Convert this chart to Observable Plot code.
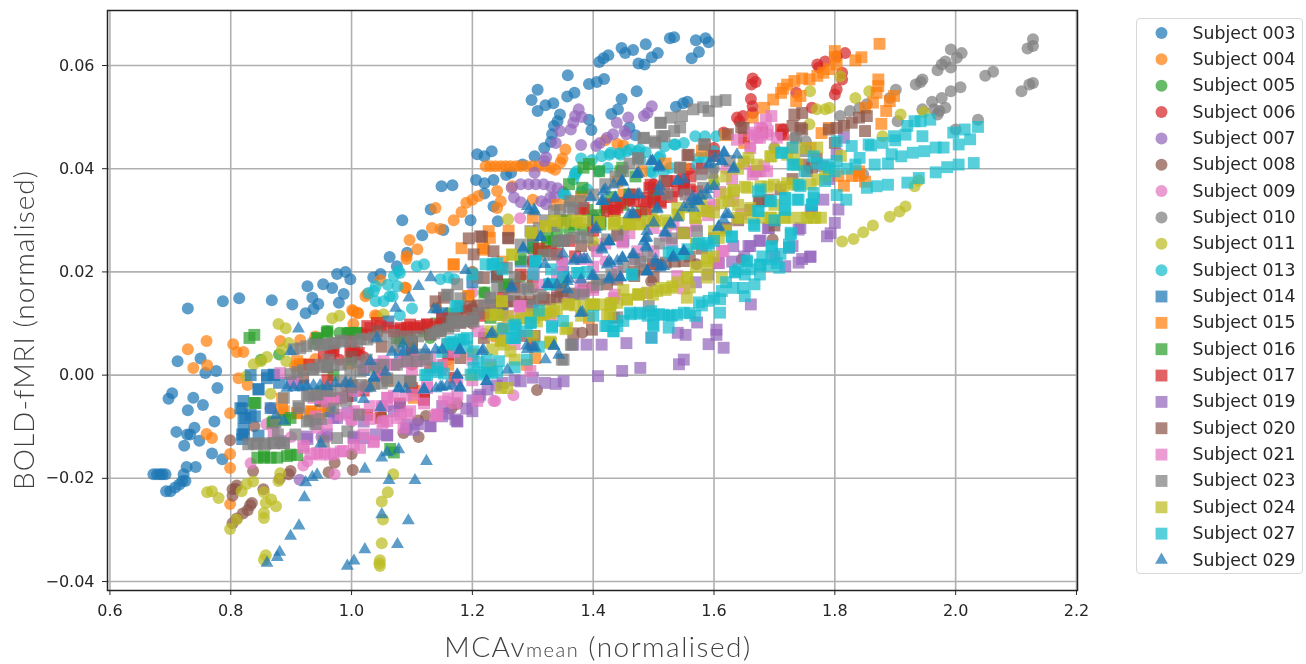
<!DOCTYPE html>
<html><head><meta charset="utf-8">
<script src="https://cdn.jsdelivr.net/npm/d3@7"></script>
<script src="https://cdn.jsdelivr.net/npm/@observablehq/plot@0.6"></script>
<style>
html,body{margin:0;padding:0;background:#fff;width:1306px;height:664px;overflow:hidden}
#chart{position:absolute;left:0;top:0}
#legend{position:absolute;left:1136px;top:18px;width:167px;height:556px;border:1.5px solid #d8d8d8;border-radius:4px;background:#fff;box-sizing:border-box}
svg{filter:blur(.45px)}
</style></head><body><div id="chart"></div><div id="legend"></div>
<script>
const xTicks=[0.6,0.8,1.0,1.2,1.4,1.6,1.8,2.0,2.2];
const yTicks=[-0.04,-0.02,0,0.02,0.04,0.06];
const xDomain=[0.596,2.2017];
const yDomain=[-0.04174,0.07066];
const tab10=["#1f77b4","#ff7f0e","#2ca02c","#d62728","#9467bd","#8c564b","#e377c2","#7f7f7f","#bcbd22","#17becf"];
const S003=[[.672,-.0192],[.678,-.0192],[.683,-.0192],[.687,-.0192],[.692,-.0192],[.693,-.0225],[.7,-.0225],[.708,-.0218],[.715,-.0212],[.72,-.0205],[.725,-.0205],[.722,-.0192],[.727,-.0178],[.742,-.0178],[.769,-.0152],[.786,-.0163],[.723,-.0137],[.748,-.0127],[.733,-.0115],[.728,-.0115],[.74,-.0102],[.71,-.011],[.773,-.009],[.729,-.0068],[.754,-.0058],[.738,-.0044],[.697,-.0046],[.703,-.0035],[.778,-.0025],[.758,.0004],[.776,.0008],[.75,.0032],[.712,.0027],[.729,.0129],[.787,.0143],[.814,.0149],[.868,.0145],[.902,.0137],[.924,.012],[.937,.0128],[.945,.0138],[.935,.015],[.927,.0172],[.953,.0176],[.968,.0169],[.976,.0196],[.99,.02],[.998,.0186],[.979,.014],[.987,.0157],[1.036,.0189],[1.048,.0196],[1.075,.0211],[1.063,.0229],[1.092,.0237],[1.117,.0271],[1.084,.03],[1.131,.0321],[1.149,.0366],[1.167,.0368],[1.152,.0281],[1.197,.03],[1.206,.0378],[1.22,.0372],[1.235,.0378],[1.22,.0352],[1.235,.0327],[1.242,.0298],[1.256,.0388],[1.208,.0428],[1.22,.0424],[1.232,.0434],[1.303,.0424],[1.319,.044],[1.33,.0452],[1.332,.0467],[1.335,.0483],[1.341,.0492],[1.345,.0505],[1.298,.0533],[1.308,.0553],[1.308,.0512],[1.321,.0523],[1.334,.0527],[1.358,.0581],[1.357,.054],[1.369,.0547],[1.393,.0564],[1.406,.0568],[1.418,.0574],[1.393,.0495],[1.397,.0475],[1.472,.055],[1.447,.0535],[1.441,.0515],[1.43,.0506],[1.537,.052],[1.549,.0527],[1.556,.053],[1.41,.0607],[1.417,.0614],[1.425,.062],[1.447,.0634],[1.453,.0624],[1.466,.063],[1.487,.0641],[1.475,.0604],[1.485,.0602],[1.497,.0616],[1.507,.0624],[1.527,.0653],[1.534,.0655],[1.57,.0649],[1.586,.0653],[1.591,.0645],[1.575,.0626],[1.563,.0614],[1.264,.0392],[1.283,.0408],[1.46,.048],[1.47,.0465]];
const S004=[[.799,-.025],[.799,-.018],[.799,-.0153],[.76,-.0114],[.769,-.0122],[.799,-.0074],[.828,-.0019],[.813,-.0006],[.738,.0014],[.761,.0019],[.729,.005],[.76,.0066],[.804,.006],[.81,.0045],[.821,.0045],[.882,.0066],[.915,.0068],[.94,.0075],[.906,.0017],[.917,.0018],[.94,.0031],[1.003,.0124],[1.01,.0121],[1.026,.0157],[1.042,.0114],[1.09,.0169],[1.001,.0126],[1.011,.012],[1.003,.0099],[1.039,.0116],[1.023,.0153],[1.048,.0184],[1.088,.017],[1.091,.0225],[1.091,.0231],[1.109,.0244],[1.096,.0262],[1.133,.0285],[1.147,.0283],[1.139,.0324],[1.169,.03],[1.182,.0316],[1.19,.0334],[1.2,.034],[1.21,.0347],[1.241,.0357],[1.247,.0337],[1.241,.0324],[1.266,.0366],[1.222,.0405],[1.23,.0405],[1.238,.0405],[1.247,.0405],[1.255,.0405],[1.263,.0405],[1.272,.0405],[1.28,.0405],[1.29,.0405],[1.3,.0405],[1.31,.0405],[1.32,.0405],[1.33,.0402],[1.337,.0398],[1.349,.042],[1.354,.0437],[1.346,.0412],[1.42,.0455],[1.44,.0448],[1.45,.0445],[1.02,.0012],[1.1,.006],[1.14,.013],[1.2,.02],[1.3,.034],[1.36,.034]];
const S005=[[.85,.003],[.88,.004],[.96,.0085],[.98,.0082],[1.04,.0015],[1.08,.0065],[1.1,.0068],[1.13,.0072],[1.16,.012],[1.22,.016],[1.28,.019],[1.32,.024],[1.36,.028],[1.4,.03],[1.46,.034],[1.5,.036],[1.55,.037],[1.6,.037],[.95,-.003],[1.05,-.008],[1.15,.002],[1.25,.009],[1.35,.018],[1.45,.028]];
const S006=[[1.616,.047],[1.638,.0499],[1.642,.0492],[1.648,.0502],[1.664,.0508],[1.664,.0521],[1.661,.0535],[1.662,.0563],[1.664,.0575],[1.669,.0568],[1.817,.0624],[1.803,.0618],[1.784,.0608],[1.771,.0602],[1.774,.0596],[1.812,.0586],[1.812,.0573],[1.803,.0554],[1.8,.0544],[1.736,.0547],[1.762,.0518],[1.714,.0476],[1.711,.0466],[1.0,.0047],[1.01,.004],[1.02,.0035],[.97,.0047],[.98,.003],[1.1,.002],[1.2,.013],[1.3,.022],[1.4,.03],[1.5,.037],[1.56,.04],[1.6,.044]];
const S007=[[1.381,.05],[1.376,.0515],[1.37,.0502],[1.367,.0489],[1.363,.0476],[1.345,.0473],[1.338,.045],[1.497,.0521],[1.49,.0508],[1.484,.0502],[1.458,.0499],[1.439,.0489],[1.452,.0473],[1.455,.0467],[1.433,.0467],[1.423,.046],[1.411,.045],[1.38,.0446],[1.405,.0444],[1.265,.0363],[1.28,.037],[1.293,.037],[1.305,.037],[1.318,.037],[1.33,.0365],[1.341,.0362],[1.269,.0344],[1.329,.0344],[1.322,.0331],[1.336,.0345],[1.319,.0415],[1.303,.0392],[1.322,.0422],[1.314,.0337],[.914,-.0203],[.866,-.0064],[.95,-.012],[1.05,-.006],[1.15,.001],[1.25,.012],[1.35,.022],[1.28,.0335],[1.35,.0355]];
const S008=[[.799,-.0126],[.839,-.0099],[.837,-.0186],[.803,-.0221],[.808,-.022],[.803,-.0234],[.81,-.0214],[.854,-.0221],[.835,-.0248],[.832,-.0252],[.828,-.0262],[.82,-.0268],[.81,-.0278],[.803,-.0287],[.899,-.0186],[.896,-.0192],[.881,-.0201],[.962,-.0188],[.972,-.017],[1.002,-.0184],[1.111,-.012],[1.086,-.0112],[1,-.0153],[1.175,-.0056],[1.165,-.0065],[1.382,.0082],[1.307,-.0029],[1.123,-.0079],[1.11,-.0088],[1.697,.0263],[1.646,.0224],[1.571,.0215],[1.496,.0182],[1.2,.01],[1.3,.017],[1.4,.025],[1.5,.03]];
const S009=[[.833,-.0171],[.859,-.0095],[.927,-.0167],[.92,-.0175],[.972,-.0192],[1.238,-.005],[1.268,-.0039],[1.235,-.005],[1.279,.0304],[.9,-.012],[.96,-.012],[1.0,-.009],[1.06,-.006],[1.11,-.003],[1.16,.003],[1.22,.008],[1.28,.012],[1.34,.016],[1.42,.022],[1.5,.03],[1.56,.034],[1.62,.04],[1.66,.044],[1.68,.048],[.99,-.002],[1.1,.005],[1.2,.016],[1.3,.024]];
const S010=[[2.128,.0651],[2.128,.0638],[2.119,.0633],[2.128,.0566],[2.122,.0563],[2.109,.055],[2.062,.0588],[2.049,.058],[1.992,.0631],[2.01,.0624],[2.002,.0615],[1.983,.0608],[1.977,.0602],[1.97,.0591],[1.992,.0596],[2.008,.0558],[1.992,.055],[1.977,.0537],[1.961,.053],[1.983,.0518],[1.973,.0512],[1.964,.0515],[1.945,.0573],[1.942,.0568],[1.934,.0563],[1.945,.0515],[1.97,.0505],[1.901,.0553],[1.891,.0537],[2.037,.0495],[2.0,.0476],[1.847,.0389],[1.809,.0502],[1.825,.0512],[1.841,.0518],[1.853,.0525],[1.904,.0492],[1.733,.046],[1.752,.0453],[1.2,.02],[1.3,.027],[1.4,.031],[1.5,.036],[1.6,.04],[1.7,.044]];
const S011=[[.761,-.0227],[.769,-.0225],[.78,-.0238],[.799,-.0298],[.81,-.028],[.818,-.0225],[.826,-.0211],[.837,-.0206],[.855,-.0227],[.858,-.0248],[.867,-.0241],[.875,-.0254],[.855,-.0267],[.855,-.0277],[.858,-.0349],[.855,-.0358],[.882,-.019],[.879,-.0205],[1.069,-.0192],[1.06,-.0227],[1.05,-.0245],[1.052,-.028],[1.05,-.0326],[1.046,-.0365],[1.047,-.037],[1.047,-.0359],[.879,.0099],[.891,.0091],[.968,.011],[.98,.0115],[.885,.005],[.892,.0027],[.896,.0062],[.838,.0021],[.826,-.0002],[.85,.0027],[.86,.0035],[.866,-.0036],[1.259,.0302],[1.053,.0118],[1.812,.0259],[1.831,.0264],[1.847,.0277],[1.863,.029],[1.891,.0307],[1.907,.0317],[1.917,.0327],[1.932,.0366],[1.939,.0377],[1.834,.0537],[1.857,.055],[1.909,.0505],[1.947,.051],[1.759,.055],[1.784,.0515],[1.791,.0518],[1.77,.0515],[1.758,.0486],[1.809,.0579],[1.879,.0463],[1.2,.012],[1.3,.018],[1.4,.026],[1.5,.032],[1.6,.038],[1.7,.044]];
const S013=[[1.028,.0159],[1.04,.0172],[1.06,.0175],[1.07,.0192],[1.078,.0202],[1.08,.0198],[1.108,.0211],[1.12,.0215],[1.076,.0172],[1.063,.0153],[1.04,.0143],[1.147,.0186],[1.16,.0189],[1.17,.0186],[1.1,.0129],[1.08,.0116],[1.398,.0417],[1.414,.0424],[1.427,.0427],[1.443,.043],[1.461,.0437],[1.477,.0437],[1.487,.0432],[1.518,.0443],[1.534,.0447],[1.55,.045],[1.569,.0463],[1.585,.0463],[1.604,.0463],[1.37,.0389],[1.367,.0379],[1.373,.0395],[1.424,.0402],[1.41,.0395],[1.509,.0421],[1.499,.0392],[1.575,.0421],[1.594,.0427],[1.354,.035],[1.37,.0391],[1.351,.0351],[1.037,.0163],[1.068,.0153],[1.053,.0143],[1.429,.0431],[1.445,.0427],[1.456,.0434],[1.473,.0434],[1.511,.0424],[1.528,.0402],[1.517,.0395],[1.495,.0395],[1.583,.0421],[1.6,.0434],[1.572,.0408],[1.478,.0418],[1.536,.0447],[1.38,.042],[1.39,.036],[1.38,.0355]];
const S014=[[.821,-.005],[.819,-.0065],[.821,-.0083],[.821,-.0105],[.819,-.0115],[.819,-.0124],[.846,-.0027],[.86,-.0006],[.872,0],[.866,-.0064],[.84,-.008],[.846,-.0117],[.965,-.007],[1.0,-.004],[1.061,.0104],[1.2,.018],[1.3,.025],[1.4,.03],[1.5,.034],[1.55,.036],[1.7,.03],[1.762,.0315],[1.1,.005],[1.25,.012],[1.35,.02],[1.45,.026],[.816,-.0064],[.824,-.0083],[.822,-.0115],[.833,-.0077],[.833,0],[.86,0],[.871,.0001],[.846,-.0028],[.962,-.007],[.948,-.0051],[.88,-.0015],[.9,-.0015],[.92,-.002],[1.02,.001],[1.04,.002],[1.08,.004],[1.12,.009],[1.15,.012],[1.24,.019],[1.28,.022]];
const S015=[[1.874,.0642],[1.8,.0628],[1.8,.0616],[1.844,.0616],[1.834,.061],[1.803,.0602],[1.79,.0593],[1.781,.0586],[1.771,.058],[1.758,.0573],[1.746,.0575],[1.733,.057],[1.721,.0563],[1.711,.0547],[1.714,.0555],[1.698,.0534],[1.683,.0518],[1.743,.0541],[1.736,.0531],[1.664,.0499],[1.872,.0573],[1.872,.056],[1.869,.0547],[1.898,.0541],[1.891,.0531],[1.885,.0512],[1.863,.0528],[1.85,.0518],[1.877,.0487],[1.79,.0479],[1.778,.0469],[1.828,.0386],[1.815,.0367],[1.806,.0386],[1.84,.0386],[1.169,.0215],[1.182,.0246],[1.227,.0279],[1.229,.0266],[1.217,.0246],[1.193,.0153],[1.304,.0033],[1.29,.002],[.885,-.0046],[.915,.0021],[.921,.0021],[.885,-.0067],[.91,-.0074],[.932,-.0076],[.947,-.0076],[.935,-.0071],[1.25,.022],[1.35,.03],[1.45,.035],[1.55,.04],[1.65,.045],[.888,-.007],[.91,-.0073],[.932,-.007],[.915,.0017],[.91,.0027],[.998,.0023],[1.103,-.0031],[1.103,-.0044],[1.169,.0214],[1.219,.0243],[1.194,.0153],[1.393,.0111],[1.252,.0091],[1.26,.028],[1.3,.0305],[1.34,.033],[1.38,.0345],[1.44,.0375],[1.48,.0395],[1.52,.041],[1.58,.0435],[1.62,.0465],[1.84,.0395],[1.85,.0375],[1.76,.044],[1.73,.044],[.955,-.006],[.975,-.0045],[1.0,-.002],[1.03,-.002],[1.06,-.001],[1.2,.004],[1.24,.0075],[1.16,.002]];
const S016=[[.831,.0072],[.839,.0078],[.839,-.0054],[.844,-.016],[.855,-.016],[.866,-.016],[.877,-.016],[.893,-.0157],[.91,-.0155],[.869,-.0093],[.89,-.0087],[.944,.007],[.96,.0085],[.995,.0081],[1.01,.0081],[1.064,-.0143],[1.07,-.015],[.94,.0062],[.993,.0081],[1.015,.0081],[1.081,.0072],[1.12,.0085],[1.252,.0176],[1.269,.0176],[1.301,.0246],[1.323,.0259],[1.412,.0298],[1.384,.0402],[1.445,.0395],[1.393,.0409],[1.448,.0402],[1.382,.0363],[1.41,.031],[1.449,.033],[1.48,.0317],[1.341,.0259],[1.31,.024],[1.253,.017],[1.42,.0325],[1.46,.035],[1.5,.0345],[.943,.0072],[.959,.0082],[.998,.0082],[1.009,.0082],[1.075,.0072],[1.097,.0069],[.899,-.0083],[.871,-.009],[.841,-.0054],[.855,-.0157],[.899,-.0154],[1.086,.0075],[1.34,.0279],[1.255,.0175],[1.335,.0259],[1.412,.0292],[1.23,.0111],[1.246,.0117],[1.324,.0266],[1.368,.0292],[1.384,.0282],[1.28,.0225],[1.3,.027],[1.355,.03],[1.39,.032],[1.43,.0345],[1.36,.037],[1.41,.0395],[1.47,.0385],[1.22,.016],[1.1,.0065],[1.14,.01],[1.0,.003],[.97,0]];
const S017=[[1.026,.0095],[1.042,.0101],[1.06,.0092],[1.081,.0088],[1.092,.0092],[1.103,.0092],[1.114,.0095],[1.125,.0098],[1.136,.0094],[1.147,.0098],[1.158,.01],[1.169,.0105],[1.18,.0102],[1.2,.0112],[1.213,.0115],[1.22,.012],[.998,.0047],[1.009,.004],[.97,.0047],[1.05,0],[1.12,-.0047],[1.28,.0195],[1.384,.0324],[1.423,.0331],[1.467,.035],[1.495,.0369],[1.493,.0363],[1.537,.0376],[1.55,.038],[1.518,.0353],[1.423,.0317],[1.436,.032],[1.379,.0321],[1.487,.0321],[1.512,.0334],[1.714,.0466],[1.711,.0476],[1.499,.0215],[1.3,.022],[1.33,.024],[1.25,.015],[1.4,.028],[.96,-.001],[1.02,-.003],[1.16,.004],[1.3,.006],[1.026,.0078],[1.031,.0091],[1.048,.0095],[1.092,.0085],[1.108,.0091],[1.125,.0098],[1.097,.0098],[.954,.0036],[.965,.004],[1.12,-.0048],[1.026,-.0077],[1.048,-.0083],[.993,-.0041],[1.004,.0046],[1.012,.0043],[1.081,.0091],[1.07,.0085],[1.489,.0343],[1.511,.0337],[1.445,.0334],[1.467,.0337],[1.484,.0337],[1.55,.0369],[1.522,.0376],[1.561,.0385],[1.572,.0356],[1.539,.0356],[1.434,.0318],[1.34,.0235],[1.36,.026],[1.44,.0325],[1.46,.034],[1.47,.031],[1.5,.0335],[1.53,.0345],[1.56,.036],[1.58,.04],[1.6,.0425],[1.65,.046],[1.68,.047],[1.0,.0065],[.93,.002],[1.15,.011],[1.19,.0125],[1.1,-.0025],[1.08,-.0055],[1.17,-.0005],[1.27,.017],[1.3,.019],[1.37,.023],[1.44,.027],[1.31,.0245]];
const S019=[[1.661,.0137],[1.604,.0088],[1.604,.0078],[1.54,.0082],[1.553,.0078],[1.496,.0073],[1.455,.0062],[1.414,.0059],[1.389,.0059],[1.367,.0059],[1.591,.006],[1.616,.0053],[1.759,.0229],[1.746,.0225],[1.74,.0218],[1.718,.0211],[1.787,.0269],[1.793,.0275],[1.8,.0295],[1.806,.0321],[1.781,.034],[1.689,.0285],[1.675,.026],[1.657,.025],[1.724,.0247],[1.74,.0282],[1.607,.0218],[1.632,.025],[1.572,.0102],[1.803,.0428],[1.815,.046],[1.78,.0405],[1.55,.003],[1.542,.0021],[1.478,.0014],[1.448,.0008],[1.408,-.0002],[1.338,-.0017],[1.351,-.0012],[1.28,-.0012],[1.3,-.0005],[1.213,-.0038],[1.2,-.007],[1.172,-.0086],[1.13,-.0099],[1.175,-.0089],[1.131,-.0099],[1.059,-.0116],[1.003,-.0122],[.97,-.0083],[1.2,-.0049],[1.21,-.0042],[1.225,-.0028],[.927,-.0124],[1.09,-.0103],[1.25,-.0015],[1.15,-.006],[1.02,-.009],[1.08,-.006],[1.059,-.0117],[1.175,-.009],[1.103,-.0106],[1.004,-.0119],[1.02,-.0122],[.976,-.0083],[.993,-.0073],[1.07,-.007],[.926,-.0119],[.882,-.0128],[.959,-.0115],[1.092,-.0096],[1.66,.025],[1.677,.0261],[1.743,.0285],[1.691,.0285],[1.76,.023],[1.608,.0217],[1.11,-.0095],[1.15,-.008],[1.19,-.0065],[1.24,-.002],[1.27,-.001],[1.32,-.0015],[1.16,-.0075],[1.04,-.0115],[1.63,.022],[1.65,.023],[1.7,.023],[1.73,.025],[1.76,.032],[1.79,.038],[1.57,.018],[1.59,.0195]];
const S020=[[1.853,.0502],[1.84,.0499],[1.828,.0489],[1.815,.0483],[1.803,.0479],[1.79,.0476],[1.746,.0508],[1.733,.0505],[1.746,.0476],[1.73,.0483],[1.85,.0473],[1.645,.048],[1.623,.0467],[1.585,.0447],[1.556,.0426],[1.544,.0402],[1.518,.0376],[1.676,.0337],[1.749,.0408],[1.762,.0402],[1.67,.0395],[1.303,.0076],[1.259,.0266],[1.194,.0265],[1.216,.0268],[1.202,.0234],[1.235,.024],[1.26,.0265],[1.241,.0192],[1.29,.0137],[1.318,.015],[1.346,.0163],[1.384,.0163],[1.423,.0176],[1.467,.0201],[1.506,.0214],[1.55,.0221],[1.56,.023],[1.153,.015],[1.139,.0143],[1.097,-.0012],[1.042,.0085],[1.13,.0079],[1.18,.0033],[1.219,.0072],[1.7,.029],[1.16,.0105],[1.18,.013],[1.367,.0081],[1.284,.0076],[1.398,.0088],[1.468,.0192],[1.5,.019],[1.38,.025],[1.25,.014],[1.2,.011],[1.0,-.002],[.95,-.005],[1.05,.002],[1.1,.004],[1.147,.0085],[1.169,.0111],[1.197,.0133],[1.23,.0136],[1.257,.0143],[1.296,.0143],[1.329,.0146],[1.351,.0153],[1.384,.0166],[1.213,.0269],[1.219,.0188],[1.241,.0191],[1.558,.0427],[1.674,.0337],[1.649,.0479],[1.743,.0479],[1.754,.0395],[1.16,.0095],[1.175,.012],[1.21,.0135],[1.27,.0143],[1.28,.0143],[1.31,.0145],[1.34,.015],[1.365,.0158],[1.4,.017],[1.44,.0185],[1.485,.0205],[1.52,.0218],[1.535,.022],[1.58,.0245],[1.6,.0265],[1.62,.0285],[1.64,.03],[1.66,.032],[1.69,.034],[1.71,.036],[1.73,.038],[1.77,.042],[1.8,.045],[1.1,.0065],[1.05,.0055],[1.0,.0035],[.96,.0015],[.92,-.0005],[1.13,.0015],[1.17,.006]];
const S021=[[1.676,.0479],[1.686,.0495],[1.695,.0502],[1.667,.047],[1.664,.0465],[1.689,.0473],[1.676,.046],[1.638,.0456],[1.676,.0395],[1.664,.0389],[1.683,.0405],[1.547,.0276],[1.449,.0257],[1.278,.0134],[1.613,.0241],[1.607,.0218],[1.55,.0168],[1.436,.0156],[1.348,.0214],[1.645,.0312],[1.632,.0338],[1.588,.0325],[1.28,.0134],[1.448,.026],[1.55,.0276],[1.539,.0192],[1.473,.024],[1.07,.0021],[1.053,.0027],[1.114,.0027],[1.175,-.0012],[1.208,-.005],[1.059,-.0089],[1.092,-.0076],[1.142,-.0076],[1.296,.0008],[.943,-.0151],[.955,-.015],[.97,-.0152],[.986,-.0147],[1.036,-.013],[1.014,-.0141],[.92,-.0137],[1.051,-.0093],[1.081,-.0077],[1.138,-.0079],[1.059,-.0044],[.96,-.0037],[.982,-.0044],[1.125,-.0025],[1.172,-.0054],[.932,-.0153],[1.0,-.0085],[1.03,-.006],[.94,-.008],[1.1,.001],[1.2,.003],[1.25,.007],[1.3,.012],[1.38,.016],[1.15,.002],[1.4,.021],[.937,-.0044],[.959,-.0051],[.982,-.0044],[1.004,-.0031],[1.02,-.0025],[1.048,0],[1.07,.002],[1.086,.0027],[1.108,.003],[.948,-.0154],[.965,-.0154],[.982,-.0148],[1.004,-.0135],[1.02,-.0115],[1.037,-.0128],[1.053,-.009],[1.075,-.0083],[1.097,-.007],[1.086,-.0102],[1.142,-.0077],[1.153,-.0051],[1.175,-.0038],[.921,-.0141],[.943,-.0102],[.959,-.0096],[.982,-.0077],[1.004,-.007],[1.059,-.0044],[1.103,-.0038],[1.125,-.0019],[.904,-.0012],[.882,.0004],[.871,-.0112],[1.279,.0133],[1.31,.0175],[1.379,.0175],[1.406,.024],[1.302,.0198],[1.434,.0149],[1.489,.0159],[1.533,.0292],[1.553,.0276],[1.572,.0343],[1.616,.024],[1.666,.0395],[1.688,.0395],[1.671,.046],[1.688,.0466],[1.704,.046],[1.6,.033],[.95,-.0045],[.97,-.0048],[1.01,-.0075],[1.03,-.0085],[1.05,-.006],[1.07,-.004],[1.09,-.004],[1.12,-.0055],[1.16,-.0045],[1.2,-.001],[1.23,.002],[1.27,.006],[1.33,.0115],[1.36,.014],[1.4,.0165],[1.44,.02],[1.47,.0225],[1.5,.024],[1.53,.0255],[1.57,.029],[1.59,.031],[1.61,.0355],[1.63,.038],[1.65,.041],[1.66,.044],[1.02,.0015],[1.04,.002],[1.09,.0025],[1.13,.0035],[1.17,.0045],[1.21,.0085],[1.26,.0115],[1.3,.0125],[1.34,.0195],[1.38,.0225],[1.42,.0255],[1.46,.0275],[1.5,.0285],[1.52,.027]];
const S023=[[.829,-.0134],[.843,-.0134],[.857,-.0134],[.871,-.0132],[.888,-.0132],[.907,-.0115],[.874,-.0092],[.93,-.0088],[.912,-.006],[.929,-.0041],[.944,-.0037],[.96,-.003],[.982,-.0028],[1,-.0024],[1.015,-.0019],[1.037,-.0017],[1.06,-.0012],[1.098,-.0012],[.899,.0002],[.937,.0012],[.96,.0018],[.982,.002],[1.01,.0025],[.904,.005],[.937,.006],[.96,.006],[.982,.0067],[1.015,.007],[1.037,.0073],[1.137,.0081],[1.16,.009],[1.18,.0101],[1.21,.012],[1.18,.0149],[1.16,.0155],[1.2,.0111],[1.169,.0111],[1.158,.0156],[1.175,.0176],[1.208,.019],[1.23,.0149],[1.247,.0208],[1.257,.0208],[1.28,.0253],[1.296,.0279],[1.335,.0318],[1.362,.0337],[1.38,.0337],[1.351,.026],[1.39,.0266],[1.44,.0272],[1.29,.017],[1.478,.022],[1.434,.0111],[1.365,.0059],[1.351,.003],[1.492,.0134],[1.619,.0533],[1.604,.053],[1.591,.0512],[1.582,.0519],[1.566,.0515],[1.547,.0502],[1.528,.0499],[1.512,.0489],[1.544,.048],[1.534,.0473],[1.518,.0463],[1.483,.0459],[1.502,.0453],[1.474,.0421],[1.367,.0321],[1.335,.0289],[1.379,.0269],[1.423,.0263],[1.468,.0225],[1.44,.0112],[1.363,.0059],[1.582,.0363],[1.626,.0415],[1.572,.0279],[1.736,.046],[1.752,.0434],[.878,-.0115],[1.07,.0055],[1.1,.0065],[1.12,.004],[1.16,.006],[1.24,.0125],[1.3,.0135],[1.34,.0175],[.935,.0011],[.948,.002],[.962,.003],[.954,.0059],[.968,.0062],[.987,.0065],[1.009,.0065],[1.026,.0069],[1.131,.0078],[1.142,.0085],[.888,-.0044],[.926,-.0038],[.943,-.0038],[.965,-.0031],[.982,-.0012],[.998,0],[1.015,.0007],[1.037,.0014],[1.053,.002],[1.075,.002],[1.092,.0027],[1.108,.0027],[1.125,.003],[.838,-.0132],[.855,-.0132],[.871,-.0132],[.888,-.0132],[.926,-.009],[.913,-.0064],[.954,-.0128],[.976,-.0122],[.993,-.0109],[1.012,-.0077],[1.097,-.0012],[1.059,-.0006],[1.318,.0233],[1.335,.0233],[1.351,.0262],[1.368,.0266],[1.34,.0259],[1.186,.0104],[1.202,.0104],[1.166,.0104],[1.23,.015],[1.241,.0172],[1.279,.0166],[1.293,.0166],[1.313,.0156],[1.368,.0156],[1.384,.0156],[1.406,.0175],[1.348,.003],[1.484,.046],[1.503,.045],[1.514,.0463],[1.511,.0489],[1.583,.0447],[1.544,.0402],[1.578,.0389],[1.597,.0392],[1.522,.035],[1.553,.035],[1.437,.0385],[1.475,.0418],[.915,.0052],[.925,.0056],[.948,.0058],[.972,.0062],[.998,.0065],[1.05,.0075],[1.07,.0078],[1.09,.0075],[1.11,.0075],[1.148,.0088],[1.17,.0095],[1.19,.0105],[.91,.0006],[.92,.001],[.95,.0016],[.97,.0019],[.995,.0022],[1.025,.003],[.94,-.0095],[.95,-.0085],[.97,-.0065],[.99,-.005],[1.025,-.0022],[1.05,-.0016],[1.08,-.0012],[1.22,.0135],[1.26,.0155],[1.27,.019],[1.3,.027],[1.31,.0285],[1.32,.03],[1.345,.032],[1.36,.0325],[1.4,.035],[1.42,.037],[1.45,.0395],[1.46,.041],[1.41,.0185],[1.43,.0195],[1.45,.021],[1.49,.023],[1.51,.0255],[1.53,.0265],[1.55,.0275]];
const S024=[[1.23,.0085],[1.247,.0067],[1.233,.005],[1.337,.0299],[1.321,.0289],[1.299,.0276],[1.373,.0299],[1.387,.0299],[1.434,.0295],[1.459,.0292],[1.478,.0293],[1.503,.0298],[1.542,.0311],[1.539,.0324],[1.266,.0234],[1.249,.0143],[1.238,.0117],[1.258,.0114],[1.247,.0066],[1.263,.0046],[1.302,.0111],[1.318,.0117],[1.335,.0124],[1.357,.0137],[1.357,.0092],[1.396,.0137],[1.429,.0137],[1.456,.0147],[1.476,.0156],[1.506,.0163],[1.531,.0172],[1.555,.0189],[1.555,.015],[1.423,.0117],[1.247,-.0025],[1.258,-.0025],[1.33,.0063],[1.62,.0352],[1.632,.0359],[1.651,.0365],[1.689,.0365],[1.714,.0365],[1.733,.0369],[1.771,.0379],[1.784,.0386],[1.771,.0441],[1.695,.0424],[1.733,.0418],[1.657,.0421],[1.645,.0305],[1.664,.0305],[1.695,.0305],[1.717,.0305],[1.733,.0305],[1.752,.0305],[1.768,.0305],[1.777,.0305],[1.613,.0333],[1.569,.0305],[1.54,.0311],[1.581,.0318],[1.6,.0279],[1.588,.0221],[1.588,.0189],[1.613,.0189],[1.556,.0189],[1.531,.0169],[1.512,.0169],[1.499,.0156],[1.474,.0156],[1.401,.0137],[1.36,.0137],[1.322,.0124],[1.297,.0118],[1.43,.014],[1.354,.0089],[1.329,.0065],[1.436,.0299],[1.461,.0295],[1.499,.0299],[1.367,.0299],[1.335,.0299],[1.297,.0276],[1.31,.0118],[1.28,.011],[1.249,.0143],[1.313,.0117],[1.329,.012],[1.384,.0133],[1.401,.0136],[1.428,.0136],[1.456,.0146],[1.475,.0157],[1.241,.0117],[1.23,.0117],[1.252,.0059],[1.235,.0078],[1.266,.0233],[1.321,.0288],[1.434,.0292],[1.459,.0292],[1.478,.0292],[1.379,.0295],[1.329,.0062],[1.307,.0104],[1.428,.0117],[1.524,.0295],[1.569,.0305],[1.589,.0318],[1.624,.0337],[1.633,.0356],[1.655,.0363],[1.677,.0366],[1.699,.0369],[1.721,.0372],[1.638,.0305],[1.66,.0324],[1.693,.0305],[1.716,.0305],[1.754,.0305],[1.765,.0305],[1.608,.0266],[1.589,.0227],[1.589,.0208],[1.649,.0414],[1.693,.0424],[1.721,.0427],[1.671,.0408],[1.738,.0408],[1.27,.0105],[1.29,.011],[1.34,.0128],[1.37,.0135],[1.41,.0137],[1.44,.014],[1.49,.016],[1.52,.0165],[1.54,.018],[1.57,.021],[1.6,.023],[1.62,.028],[1.64,.033],[1.68,.0305],[1.7,.033],[1.74,.037],[1.76,.037],[1.79,.04],[1.81,.0425],[1.62,.0385],[1.64,.04],[1.75,.044],[1.35,.0295],[1.41,.0297],[1.45,.0295],[1.49,.0298],[1.52,.03],[1.56,.0325],[1.58,.034],[1.6,.0315],[1.55,.0275],[1.57,.0255],[1.56,.017],[1.27,.003],[1.3,.0075],[1.38,.0115],[1.45,.0165],[1.2,0],[1.23,.0015]];
const S027=[[2.037,.0481],[2.015,.0476],[2.024,.0457],[2.005,.0447],[1.996,.047],[1.98,.0441],[1.967,.0441],[1.948,.0434],[1.929,.0431],[1.91,.0424],[1.894,.0428],[2.03,.0411],[2.005,.0408],[1.986,.0403],[1.967,.0393],[1.939,.0382],[1.92,.0373],[1.888,.0369],[1.869,.0366],[1.853,.0363],[1.888,.041],[1.866,.0408],[1.958,.0495],[1.942,.0492],[1.932,.0492],[1.92,.0483],[1.898,.0463],[1.945,.0463],[1.917,.0466],[1.879,.045],[1.856,.0447],[1.828,.0444],[1.803,.0453],[1.79,.0402],[1.834,.0408],[1.841,.0421],[1.803,.0415],[1.784,.0408],[1.73,.0441],[1.711,.0431],[1.73,.0408],[1.74,.0369],[1.765,.0343],[1.784,.0376],[1.803,.0349],[1.819,.034],[1.762,.0331],[1.74,.034],[1.717,.0343],[1.695,.0337],[1.673,.0356],[1.673,.0318],[1.717,.032],[1.667,.0289],[1.629,.0268],[1.727,.0273],[1.724,.0247],[1.695,.0247],[1.695,.0225],[1.689,.0212],[1.708,.0208],[1.654,.0222],[1.635,.0199],[1.676,.0214],[1.651,.0195],[1.676,.0195],[1.667,.0176],[1.613,.0163],[1.632,.0169],[1.648,.0169],[1.651,.0153],[1.61,.0147],[1.591,.0144],[1.575,.0141],[1.61,.0121],[1.569,.0115],[1.55,.0121],[1.525,.0115],[1.509,.0118],[1.496,.0124],[1.477,.0121],[1.461,.0121],[1.499,.0098],[1.525,.0092],[1.433,.0085],[1.42,.0095],[1.572,.0254],[1.588,.0251],[1.556,.0244],[1.376,.0198],[1.329,.0176],[1.303,.0218],[1.272,.0092],[1.297,.0102],[1.332,.0095],[1.265,.0072],[1.465,.0195],[1.531,.024],[1.235,.0215],[1.222,.0215],[1.175,.0134],[1.296,.0101],[1.269,.0095],[1.269,.0072],[1.332,.0092],[1.462,.0118],[1.478,.0119],[1.5,.0117],[1.517,.0117],[1.539,.0117],[1.5,.0095],[1.423,.0095],[1.434,.0085],[1.169,.0063],[1.186,.0069],[1.202,.0046],[1.224,.003],[1.142,.0014],[1.125,.0001],[1.197,.0001],[1.213,.0001],[1.233,.0004],[1.327,.0176],[1.373,.0198],[1.464,.0195],[1.305,.0221],[1.158,.006],[1.173,.0058],[1.122,0],[1.142,.0006],[1.153,.0003],[1.233,.0214],[1.241,.0217],[1.304,.022],[1.271,.0098],[1.271,.0072],[1.172,.0133],[1.497,.0072],[1.164,.0065],[1.18,.0069],[1.191,.0072],[1.244,.0027],[1.202,.0014],[1.224,.0007],[1.241,.0007],[1.575,.0256],[1.591,.0256],[1.63,.0269],[1.525,.0237],[1.542,.0234],[1.713,.0431],[1.732,.0408],[1.765,.0424],[1.743,.0366],[1.765,.0353],[1.693,.0337],[1.718,.0343],[1.738,.034],[1.762,.033],[1.677,.036],[1.674,.0318],[1.718,.0321],[1.666,.0292],[1.696,.025],[1.727,.0276],[1.724,.0253],[1.655,.022],[1.635,.02],[1.677,.0214],[1.704,.0217],[1.15,.0045],[1.19,.0055],[1.21,.0025],[1.22,.0005],[1.25,.009],[1.29,.0085],[1.31,.0125],[1.35,.019],[1.39,.02],[1.3,.0195],[1.33,.0205],[1.44,.0095],[1.45,.0105],[1.49,.0115],[1.53,.0115],[1.56,.012],[1.58,.0135],[1.6,.015],[1.62,.018],[1.64,.0205],[1.66,.0205],[1.68,.023],[1.71,.0235],[1.55,.0235],[1.6,.026],[1.7,.03],[1.75,.0395],[1.77,.041],[1.8,.0395],[1.82,.04],[1.86,.0445],[1.9,.0455],[1.27,.0015],[1.29,.003],[1.31,.0055],[1.35,.0105],[1.2,.0195],[1.25,.0205],[1.4,.0115]];
const S029=[[.993,-.037],[1.004,-.036],[1.022,-.0338],[1.076,-.0328],[1.05,-.027],[1.094,-.0282],[1.105,-.0204],[1.062,-.0204],[1.124,-.0167],[1.022,-.0182],[1.078,-.0144],[1.05,-.016],[1.059,-.015],[.922,-.0237],[.913,-.0292],[.899,-.0312],[.881,-.0343],[.877,-.0353],[.86,-.0364],[.943,-.0193],[.935,-.0198],[.924,-.0208],[.949,-.0133],[.888,-.0089],[.875,-.0078],[.899,.0046],[.912,.009],[.893,-.0025],[.904,-.0024],[.915,-.0023],[.926,-.0021],[.937,-.002],[.948,-.002],[.973,-.0016],[.99,-.0015],[.998,-.0017],[1.037,-.0005],[1.031,-.0025],[1.078,-.0025],[1.12,-.0028],[1.15,-.0023],[1.167,-.002],[1.18,-.0023],[1.175,0],[1.224,-.0012],[1.02,-.0047],[1.048,-.0063],[1.056,.0006],[1.031,.0027],[1.042,.0072],[1.067,.0045],[1.085,.0059],[1.086,.0045],[1.103,.0049],[1.122,.0049],[1.139,.0049],[1.15,.0049],[1.179,.0049],[1.218,.0049],[1.233,.0082],[1.073,.013],[1.095,.015],[1.111,.0172],[1.136,.0127],[1.142,.0127],[1.131,.0189],[1.189,.0203],[1.265,.0172],[1.324,.0176],[1.357,.0182],[1.357,.0166],[1.284,.0247],[1.313,.0267],[1.404,.0282],[1.401,.0192],[1.426,.0185],[1.445,.0189],[1.382,.0122],[1.321,.003],[1.343,.0039],[1.335,.0056],[1.291,.005],[1.304,.0053],[1.231,.0079],[1.216,.0046],[1.18,.0048],[1.258,.001],[1.223,-.0012],[1.175,.0001],[1.18,-.0025],[1.158,-.0021],[1.147,-.0023],[1.12,-.0028],[1.078,-.0026],[1.037,-.0005],[1.368,.0221],[1.379,.0224],[1.39,.0224],[1.415,.0243],[1.426,.026],[1.448,.0227],[1.426,.0221],[1.467,.0234],[1.489,.0266],[1.489,.0247],[1.503,.0224],[1.489,.0201],[1.517,.0211],[1.528,.0292],[1.52,.0276],[1.55,.024],[1.558,.0331],[1.506,.0324],[1.467,.0311],[1.459,.035],[1.437,.0344],[1.415,.0337],[1.42,.036],[1.434,.0369],[1.448,.0376],[1.396,.0344],[1.302,.0321],[1.291,.0327],[1.473,.0389],[1.498,.0415],[1.509,.0405],[1.572,.034],[1.539,.0376],[1.55,.0379],[1.509,.0356],[1.498,.0415],[1.509,.0402],[1.472,.0389],[1.54,.0376],[1.632,.0399],[1.638,.0427],[1.613,.0415],[1.616,.0431],[1.591,.0408],[1.588,.0349],[1.575,.0337],[1.566,.0324],[1.506,.0321],[1.465,.0314],[1.414,.0337],[1.436,.0343],[1.458,.035],[1.474,.035],[1.528,.0295],[1.518,.0276],[1.487,.0265],[1.487,.0249],[1.405,.0286],[1.417,.0356],[1.449,.0373],[1.62,.0312],[1.607,.0286],[1.55,.024],[1.531,.0227],[1.512,.0211],[1.49,.0201],[1.465,.0233],[1.449,.0227],[1.423,.0214],[1.414,.0247],[1.385,.0225],[1.37,.0225],[1.427,.0259],[1.398,.0192],[1.445,.0189],[1.427,.0189],[1.379,.012],[1.326,.0176],[1.36,.0186],[1.313,.0267],[1.284,.0244],[1.265,.0168],[1.294,.032],[1.303,.0317],[1.335,.0057],[1.3,.0053],[1.29,.0057],[1.495,.0414],[1.51,.0405],[1.475,.0392],[1.448,.0376],[1.477,.035],[1.418,.0337],[1.51,.0366],[1.594,.0411],[1.602,.042],[1.613,.0414],[1.617,.0431],[1.633,.0402],[1.6,.0366],[1.589,.036],[1.578,.0347],[1.567,.0337],[1.624,.0311],[1.616,.0301],[1.608,.0288],[1.484,.0259],[1.489,.0279],[1.44,.0221],[1.429,.0217],[1.533,.023],[1.503,.0217],[1.511,.0208],[1.489,.0201],[1.426,.0259],[1.459,.0311],[.96,-.0022],[1.09,-.0027],[1.14,-.0026],[1.34,.0175],[1.38,.0185],[1.32,.0215],[1.35,.0235],[1.5,.0295],[1.55,.0325],[1.54,.0305],[1.565,.0345]];
const subjects=["Subject 003","Subject 004","Subject 005","Subject 006","Subject 007","Subject 008","Subject 009","Subject 010","Subject 011","Subject 013","Subject 014","Subject 015","Subject 016","Subject 017","Subject 019","Subject 020","Subject 021","Subject 023","Subject 024","Subject 027","Subject 029"];
const series=[S003,S004,S005,S006,S007,S008,S009,S010,S011,S013,S014,S015,S016,S017,S019,S020,S021,S023,S024,S027,S029];
const shapes=subjects.map((_,i)=>i<10?"circle":i<20?"square":"triangle");
const sizes={circle:6,square:6.7,triangle:4.8};
const colors=subjects.map((_,i)=>tab10[i%10]);
const table=subjects.flatMap((s,i)=>series[i].map(([x,y])=>({subject:s,x,y})));
const inShape=k=>d=>shapes[subjects.indexOf(d.subject)]===k;
const colorScale={type:"ordinal",domain:subjects,range:colors};
const symbolScale={type:"ordinal",domain:subjects,range:shapes};
const dots=k=>Plot.dot(table.filter(inShape(k)),{x:"x",y:"y",fill:"subject",symbol:"subject",r:sizes[k],fillOpacity:.72,stroke:"none"});
const tickFont={fontFamily:"DejaVu Sans",fontSize:16};
const chart=Plot.plot({
  width:1306,height:664,marginLeft:107,marginRight:229,marginTop:10,marginBottom:74,
  style:{background:"transparent",color:"#262626",fontFamily:"DejaVu Sans",fontSize:"16px"},
  x:{domain:xDomain,label:null},y:{domain:yDomain,label:null},
  color:colorScale,symbol:symbolScale,
  marks:[
    Plot.gridX(xTicks,{stroke:"#b0b0b0",strokeOpacity:1,strokeWidth:1.6}),
    Plot.gridY(yTicks,{stroke:"#b0b0b0",strokeOpacity:1,strokeWidth:1.6}),
    dots("circle"),dots("square"),dots("triangle"),
    Plot.frame({stroke:"#222",strokeWidth:1.5}),
    Plot.axisX({ticks:xTicks,tickFormat:d3.format(".1f"),tickSize:5,tickPadding:9,label:null,...tickFont}),
    Plot.axisY({ticks:yTicks,tickFormat:d3.format(".2f"),tickSize:5,tickPadding:8,label:null,...tickFont})
  ]
});
const lab="Lato";
const svg=d3.select(chart);
const xl=svg.append("text").attr("x",598).attr("y",657).attr("text-anchor","middle").attr("fill","#404040").attr("font-family",lab).attr("font-weight",300).attr("font-size",28).attr("letter-spacing",1.5);
xl.append("tspan").text("MCAv");
xl.append("tspan").attr("font-size",20).text("mean");
xl.append("tspan").text(" (normalised)");
svg.append("text").attr("transform","translate(34,330) rotate(-90)").attr("text-anchor","middle").attr("fill","#404040").attr("font-family",lab).attr("font-weight",300).attr("font-size",28).attr("letter-spacing",1).text("BOLD-fMRI (normalised)");
document.getElementById("chart").append(chart);
const legend=Plot.plot({
  width:164,height:553,margin:0,
  style:{background:"transparent",color:"#262626"},
  x:{domain:[0,164],axis:null},
  y:{type:"point",padding:0,round:false,domain:subjects,range:[13.5,540.5],axis:null},
  color:colorScale,symbol:symbolScale,
  marks:[
    ...["circle","square","triangle"].map(k=>Plot.dot(subjects.filter((_,i)=>shapes[i]===k),{x:()=>24,y:d=>d,fill:d=>d,symbol:d=>d,r:sizes[k],fillOpacity:.72})),
    Plot.text(subjects,{x:()=>55,y:d=>d,text:d=>d,textAnchor:"start",fontFamily:"DejaVu Sans",fontSize:17.3,fill:"#262626"})
  ]
});
document.getElementById("legend").append(legend);
</script></body></html>
